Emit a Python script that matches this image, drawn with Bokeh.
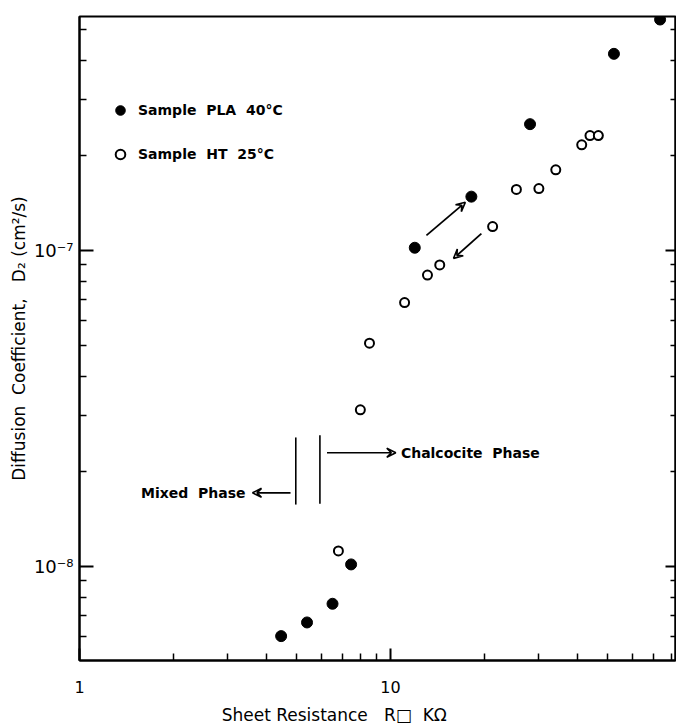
from bokeh.plotting import figure
from bokeh.models import (FixedTicker, CustomJSTickFormatter, LogAxis, Arrow, VeeHead,
                          Legend, LegendItem)
from bokeh.core.properties import value
from bokeh.embed import file_html
from bokeh.resources import INLINE

# Sheet resistance (kOhm) and diffusion coefficient D2 (cm^2/s)
pla_r = [4.45, 5.39, 6.51, 7.47, 11.97, 18.2, 28.1, 52.3, 73.6]
pla_d = [6.02e-9, 6.65e-9, 7.62e-9, 1.015e-8, 1.02e-7, 1.48e-7, 2.51e-7, 4.19e-7, 5.38e-7]

ht_r = [6.8, 8.0, 8.56, 11.1, 13.15, 14.4, 21.3, 25.4, 30.0, 34.0, 41.2, 43.8, 46.6]
ht_d = [1.12e-8, 3.13e-8, 5.09e-8, 6.84e-8, 8.36e-8, 9.0e-8, 1.19e-7, 1.56e-7, 1.57e-7,
        1.80e-7, 2.16e-7, 2.31e-7, 2.31e-7]

# phase boundary markers
boundary_r = [4.96, 5.93]
boundary_d_lo = [1.57e-8, 1.58e-8]
boundary_d_hi = [2.56e-8, 2.60e-8]

x_major = [1, 10]
x_minor = [2, 3, 4, 5, 6, 7, 8, 9, 20, 30, 40, 50, 60, 70, 80]
y_major = [1e-8, 1e-7]
y_minor = [6e-9, 7e-9, 8e-9, 9e-9, 2e-8, 3e-8, 4e-8, 5e-8, 6e-8, 7e-8, 8e-8, 9e-8,
           2e-7, 3e-7, 4e-7, 5e-7]

FONT = "DejaVu Sans"
NB = "\u00a0"   # non-breaking space keeps wide word gaps in SVG text

p = figure(x_axis_type="log", y_axis_type="log",
           x_range=(1, 82.5), y_range=(5.04e-9, 5.5e-7),
           frame_width=596, frame_height=644,
           min_border_left=79, min_border_right=1, min_border_top=16, min_border_bottom=67,
           output_backend="svg", toolbar_location=None)
p.background_fill_color = "white"
p.border_fill_color = "white"
p.grid.visible = False
p.outline_line_color = "black"
p.outline_line_width = 2

# bottom axis
xa = p.xaxis[0]
xa.ticker = FixedTicker(ticks=x_major, minor_ticks=x_minor)
xa.formatter = CustomJSTickFormatter(code="return tick < 5 ? '1' : '10';")
xa.major_tick_in = 12
xa.major_tick_out = 0
xa.minor_tick_in = 7
xa.minor_tick_out = 0
xa.axis_line_width = 2
xa.major_tick_line_width = 2
xa.minor_tick_line_width = 1.5
xa.major_label_standoff = 20
xa.major_label_text_font = FONT
xa.major_label_text_font_size = "16px"
xa.major_label_text_color = "black"
xa.axis_label = f"Sheet{NB}Resistance{NB*3}R\u25a1{NB*2}K\u03a9" + NB * 16
xa.axis_label_text_font = FONT
xa.axis_label_text_font_style = "normal"
xa.axis_label_text_font_size = "17px"
xa.axis_label_text_color = "black"
xa.axis_label_standoff = 9

# left axis
ya = p.yaxis[0]
ya.ticker = FixedTicker(ticks=y_major, minor_ticks=y_minor)
ya.formatter = CustomJSTickFormatter(
    code="return Math.round(Math.log10(tick)) == -8 ? '10\u207b\u2078' : '10\u207b\u2077';")
ya.major_tick_in = 14
ya.major_tick_out = 0
ya.minor_tick_in = 7
ya.minor_tick_out = 0
ya.axis_line_width = 2
ya.major_tick_line_width = 2
ya.minor_tick_line_width = 1.5
ya.major_label_standoff = 6
ya.major_label_orientation = "horizontal"
ya.major_label_text_font = FONT
ya.major_label_text_font_size = "18px"
ya.major_label_text_color = "black"
ya.axis_label = f"Diffusion{NB*2}Coefficient,{NB*3}D\u2082{NB}(cm\u00b2/s)"
ya.axis_label_text_font = FONT
ya.axis_label_text_font_style = "normal"
ya.axis_label_text_font_size = "17px"
ya.axis_label_text_color = "black"
ya.axis_label_standoff = 2

# right axis: ticks only
ra = LogAxis(ticker=FixedTicker(ticks=y_major, minor_ticks=y_minor),
             formatter=CustomJSTickFormatter(code="return '';"),
             major_tick_in=10, major_tick_out=0, minor_tick_in=5, minor_tick_out=0,
             major_label_standoff=0,
             axis_line_width=2, major_tick_line_width=2, minor_tick_line_width=1.5)
p.add_layout(ra, "right")

# data
r_pla = p.scatter(pla_r, pla_d, size=11, marker="circle", fill_color="black",
                  line_color="black")
r_ht = p.scatter(ht_r, ht_d, size=9, marker="circle", fill_color="white",
                 line_color="black", line_width=2)

# phase boundary
p.segment(x0=boundary_r, y0=boundary_d_lo, x1=boundary_r, y1=boundary_d_hi,
          line_color="black", line_width=1.6)

def vee():
    return VeeHead(size=9, line_width=1.6, line_color="black", fill_color=None)

p.add_layout(Arrow(x_start=6.25, y_start=2.29e-8, x_end=10.4, y_end=2.29e-8,
                   line_width=1.6, end=vee()))
p.add_layout(Arrow(x_start=4.77, y_start=1.71e-8, x_end=3.6, y_end=1.71e-8,
                   line_width=1.6, end=vee()))

# heating / cooling direction
p.add_layout(Arrow(x_start=13.05, y_start=1.116e-7, x_end=17.4, y_end=1.42e-7,
                   line_width=1.8, end=vee()))
p.add_layout(Arrow(x_start=19.6, y_start=1.13e-7, x_end=15.95, y_end=9.44e-8,
                   line_width=1.8, end=vee()))

p.text(x=[10.8], y=[2.29e-8], text=[f"Chalcocite{NB*2}Phase"], text_font=value(FONT),
       text_font_style="bold", text_font_size="14px", text_baseline="middle",
       text_align="left", text_color="black")
p.text(x=[3.42], y=[1.71e-8], text=[f"Mixed{NB*2}Phase"], text_font=value(FONT),
       text_font_style="bold", text_font_size="14px", text_baseline="middle",
       text_align="right", text_color="black")

legend = Legend(items=[LegendItem(label=f"Sample{NB*2}PLA{NB*2}40\u00b0C", renderers=[r_pla]),
                       LegendItem(label=f"Sample{NB*2}HT{NB*2}25\u00b0C", renderers=[r_ht])],
                location=(29, 494), orientation="vertical",
                glyph_width=24, glyph_height=24, label_height=24, spacing=20,
                label_standoff=6, padding=0, margin=0,
                border_line_color=None, background_fill_alpha=0,
                label_text_font=FONT, label_text_font_style="bold",
                label_text_font_size="14px", label_text_color="black")
p.add_layout(legend)

open("out.html", "w").write(file_html(p, INLINE))
